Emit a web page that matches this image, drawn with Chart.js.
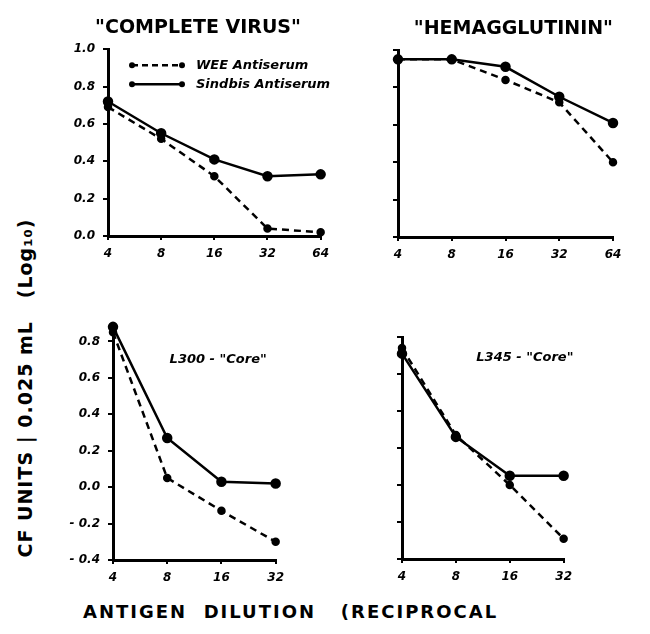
<!DOCTYPE html>
<html>
<head>
<meta charset="utf-8">
<script src="https://cdn.jsdelivr.net/npm/chart.js@4.4.1/dist/chart.umd.min.js"></script>
<style>
  html, body { margin: 0; padding: 0; background: #fff; overflow: hidden; }
  body { width: 650px; height: 634px; position: relative; font-family: 'DejaVu Sans', sans-serif; color: #000; }
  canvas { position: absolute; }
  .ylabel {
    position: absolute; left: 25px; top: 388px;
    transform: translate(-50%, -50%) rotate(-90deg);
    white-space: pre; font-size: 19px; font-weight: bold; letter-spacing: 1px; line-height: 22px;
  }
  .xlabel {
    position: absolute; left: 83px; top: 602px;
    white-space: pre; font-size: 18px; font-weight: bold; letter-spacing: 2px; line-height: 20px;
  }
</style>
</head>
<body>
<canvas id="virus" width="278" height="264" style="left:58px;top:0px"></canvas>
<canvas id="hemag" width="272" height="265" style="left:378px;top:0px"></canvas>
<canvas id="core300" width="228" height="280" style="left:63px;top:308px"></canvas>
<canvas id="core345" width="197" height="260" style="left:382px;top:327px"></canvas>
<div class="ylabel">CF UNITS | 0.025 mL   (Log₁₀)</div>
<div class="xlabel">ANTIGEN  DILUTION   (RECIPROCAL</div>
<script>
// antigen dilutions (reciprocal)
const DILUTIONS_TOP = ['4', '8', '16', '32', '64'];
const DILUTIONS_BOTTOM = ['4', '8', '16', '32'];

// CF units, log10
const VIRUS_WEE = [0.69, 0.52, 0.32, 0.04, 0.02];
const VIRUS_SINDBIS = [0.72, 0.55, 0.41, 0.32, 0.33];
const HEMAG_WEE = [0.95, 0.95, 0.84, 0.72, 0.40];
const HEMAG_SINDBIS = [0.95, 0.95, 0.91, 0.75, 0.61];
const L300_WEE = [0.85, 0.05, -0.13, -0.30];
const L300_SINDBIS = [0.88, 0.27, 0.03, 0.02];
const L345_WEE = [0.74, 0.27, 0.00, -0.29];
const L345_SINDBIS = [0.71, 0.26, 0.05, 0.05];

const SERIES = ['WEE Antiserum', 'Sindbis Antiserum'];

Chart.defaults.font.family = "'DejaVu Sans', sans-serif";
Chart.defaults.color = '#000';

const tickFont = { size: 12, weight: 'bold', style: 'italic' };

// small legend drawn inside the first panel
const panelLegend = {
    id: 'panelLegend',
    afterDraw(chart, args, opts) {
        if (!opts.show) return;
        const { ctx, chartArea } = chart;
        const x0 = chartArea.left + 24, x1 = chartArea.left + 74;
        ctx.save();
        ctx.strokeStyle = '#000';
        ctx.fillStyle = '#000';
        ctx.lineWidth = 2.5;
        SERIES.forEach((name, i) => {
            const y = chartArea.top + 16 + i * 19;
            ctx.setLineDash(i === 0 ? [6, 4] : []);
            ctx.beginPath();
            ctx.moveTo(x0, y);
            ctx.lineTo(x1, y);
            ctx.stroke();
            ctx.setLineDash([]);
            [x0, x1].forEach(px => {
                ctx.beginPath();
                ctx.arc(px, y, 3, 0, Math.PI * 2);
                ctx.fill();
            });
            ctx.font = "italic bold 13px 'DejaVu Sans', sans-serif";
            ctx.textBaseline = 'middle';
            ctx.fillText(name, chartArea.left + 88, y);
        });
        ctx.restore();
    }
};

// panel note placed in data coordinates
const panelNote = {
    id: 'panelNote',
    afterDraw(chart, args, opts) {
        if (!opts.text) return;
        const { ctx, scales } = chart;
        ctx.save();
        ctx.font = "italic bold 13px 'DejaVu Sans', sans-serif";
        ctx.fillStyle = '#000';
        ctx.textAlign = 'center';
        ctx.textBaseline = 'middle';
        ctx.fillText(opts.text, scales.x.getPixelForValue(opts.x), scales.y.getPixelForValue(opts.y));
        ctx.restore();
    }
};

Chart.register(panelLegend, panelNote);

function fmt(v) {
    const r = Math.round(v * 10) / 10;
    return r < 0 ? '- ' + Math.abs(r).toFixed(1) : r.toFixed(1);
}

function makePanel(id, labels, wee, sindbis, cfg) {
    return new Chart(document.getElementById(id), {
        type: 'line',
        data: {
            labels: labels,
            datasets: [
                {
                    label: SERIES[0],
                    data: wee,
                    borderColor: '#000',
                    backgroundColor: '#000',
                    borderWidth: 2.5,
                    borderDash: [7, 5],
                    pointRadius: 3,
                    tension: 0,
                    clip: false,
                },
                {
                    label: SERIES[1],
                    data: sindbis,
                    borderColor: '#000',
                    backgroundColor: '#000',
                    borderWidth: 2.5,
                    pointRadius: 4,
                    tension: 0,
                    clip: false,
                },
            ]
        },
        options: {
            responsive: false,
            animation: false,
            layout: { padding: cfg.padding },
            plugins: {
                legend: { display: false },
                tooltip: { enabled: false },
                title: {
                    display: !!cfg.title,
                    text: cfg.title || '',
                    align: cfg.titleAlign || 'center',
                    color: '#000',
                    font: { size: 19, weight: 'bold' },
                    padding: { top: 0, bottom: 10 },
                },
                panelLegend: { show: !!cfg.legend },
                panelNote: cfg.note || {},
            },
            scales: {
                x: {
                    offset: false,
                    grid: { drawOnChartArea: false, tickLength: 4, color: '#000', lineWidth: 2 },
                    border: { color: '#000', width: 3 },
                    ticks: { font: tickFont, padding: 7, maxRotation: 0, autoSkip: false },
                    afterFit: s => { s.height = 28; },
                },
                y: {
                    min: cfg.min,
                    max: cfg.max,
                    grid: { drawOnChartArea: false, tickLength: 5, color: '#000', lineWidth: 2 },
                    border: { color: '#000', width: 3 },
                    ticks: {
                        stepSize: 0.2,
                        includeBounds: false,
                        display: cfg.yLabels,
                        font: tickFont,
                        padding: 8,
                        callback: v => fmt(v),
                    },
                    afterFit: s => { s.width = cfg.yWidth; },
                },
            },
        }
    });
}

makePanel('virus', DILUTIONS_TOP, VIRUS_WEE, VIRUS_SINDBIS, {
    title: '"COMPLETE VIRUS"', legend: true, min: 0, max: 1.0, yLabels: true, yWidth: 34,
    padding: { left: 16, right: 14, top: 16.4, bottom: 0 },
});
makePanel('hemag', DILUTIONS_TOP, HEMAG_WEE, HEMAG_SINDBIS, {
    title: '"HEMAGGLUTININ"', titleAlign: 'end', min: 0, max: 1.0, yLabels: false, yWidth: 20,
    padding: { left: 0, right: 37, top: 17.2, bottom: 0 },
});
makePanel('core300', DILUTIONS_BOTTOM, L300_WEE, L300_SINDBIS, {
    note: { text: 'L300 - "Core"', x: 1.94, y: 0.70 }, min: -0.4, max: 0.9, yLabels: true, yWidth: 50,
    padding: { left: 0, right: 14, top: 10, bottom: 0 },
});
makePanel('core345', DILUTIONS_BOTTOM, L345_WEE, L345_SINDBIS, {
    note: { text: 'L345 - "Core"', x: 2.28, y: 0.69 }, min: -0.4, max: 0.8, yLabels: false, yWidth: 20,
    padding: { left: 0, right: 14, top: 10, bottom: 0 },
});
</script>
</body>
</html>
